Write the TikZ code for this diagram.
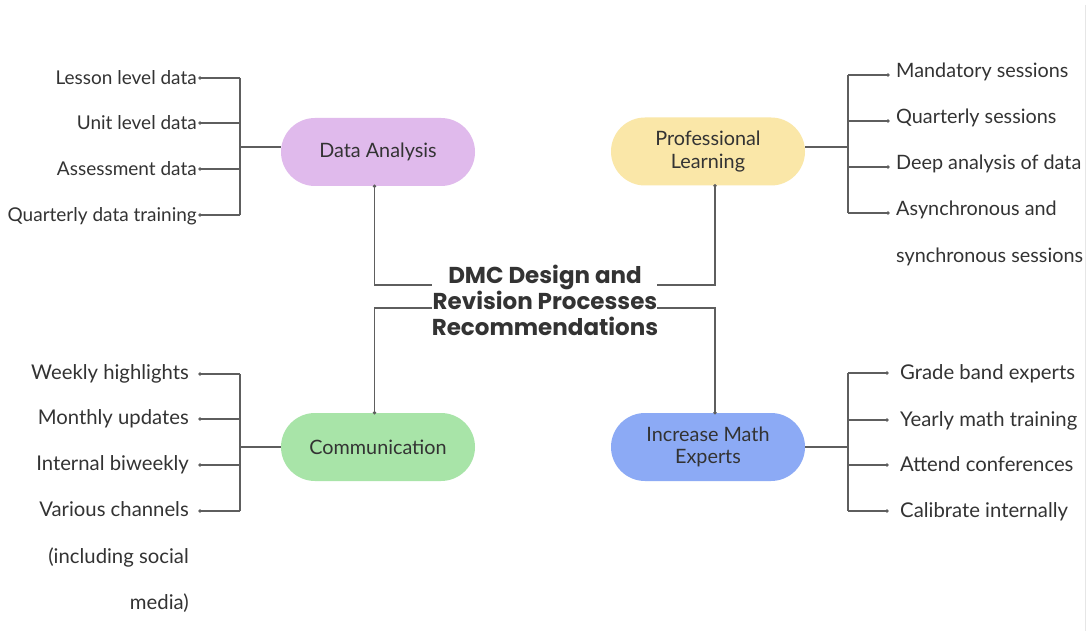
\documentclass[tikz,border=0pt]{standalone}
\usepackage{fontspec}
\setmainfont{Lato}
\newfontfamily\headfont{Poppins}
\definecolor{dapurple}{HTML}{E0BAEC}
\definecolor{plyellow}{HTML}{FAE7A8}
\definecolor{cmgreen}{HTML}{A8E4A8}
\definecolor{imblue}{HTML}{8CAAF5}
\definecolor{inkgray}{HTML}{333333}
\definecolor{linegray}{HTML}{5E5E5E}
\definecolor{edgegray}{HTML}{E6E6E6}
\tikzset{
  pill/.style={rounded corners=34pt, minimum width=194pt, minimum height=68pt,
    align=center, text=inkgray, inner sep=0pt, font=\fontsize{19.8}{22.5}\selectfont},
  item/.style={inner sep=0pt, text=inkgray, font=\fontsize{20.3}{22}\selectfont},
  smallitem/.style={item, font=\fontsize{19}{22}\selectfont},
  miditem/.style={item, font=\fontsize{19.8}{22}\selectfont},
  link/.style={draw=linegray, line width=1.2pt},
  knot/.style={circle, fill=linegray, inner sep=0pt, minimum size=3.8pt},
  headline/.style={inner sep=0pt, text=inkgray, align=center,
    font=\headfont\bfseries\fontsize{23}{26}\selectfont}
}
\begin{document}
\begin{tikzpicture}[x=1pt,y=-1pt]
\useasboundingbox (0,0) rectangle (1087,631);
\fill[white] (0,0) rectangle (1087,631);
\draw[edgegray, line width=1pt] (1085.5,5) -- (1085.5,631);

% central heading
\node[headline] (title) at (545,300) {DMC Design and\\Revision Processes\\Recommendations};
\coordinate (tNW) at (432,285);
\coordinate (tNE) at (657,285);
\coordinate (tSW) at (432,308);
\coordinate (tSE) at (657,308);

% the four topics
\node[pill, fill=dapurple] (da) at (378,152) {Data Analysis};
\node[pill, fill=plyellow] (pl) at (708,151.5) {Professional\\Learning};
\node[pill, fill=cmgreen] (cm) at (378,447) {Communication};
\node[pill, fill=imblue] (im) at (708,447) {Increase Math\\Experts};

% heading to topics
\coordinate (daS) at ([xshift=-3.5pt]da.south);
\coordinate (plS) at ([xshift=7pt]pl.south);
\coordinate (cmN) at ([xshift=-3.5pt]cm.north);
\coordinate (imN) at ([xshift=7pt]im.north);
\draw[link] (daS) |- (tNW);
\draw[link] (plS) |- (tNE);
\draw[link] (cmN) |- (tSW);
\draw[link] (imN) |- (tSE);
\foreach \c in {daS,plS,cmN,imN} \node[knot] at (\c) {};

% Data Analysis branches
\coordinate (daJ) at (240,147);
\draw[link] (da.west |- daJ) -- (daJ);
\draw[link] (240,78) -- (240,215);
\foreach \y/\t [count=\i] in {78/Lesson level data,123/Unit level data,169/Assessment data,215/Quarterly data training}{
  \coordinate (daB\i) at (240,\y);
  \coordinate (daD\i) at (200,\y);
  \node[smallitem, anchor=base east] (daT\i) at (197,\y+7) {\t};
  \draw[link] (daB\i) -- (daD\i);
  \node[knot] at (daD\i) {};
}

% Professional Learning branches
\coordinate (plJ) at (848,147);
\draw[link] (pl.east |- plJ) -- (plJ);
\draw[link] (848,75) -- (848,213);
\foreach \y/\t [count=\i] in {75/Mandatory sessions,121/Quarterly sessions,167/Deep analysis of data,213/Asynchronous and}{
  \coordinate (plB\i) at (848,\y);
  \coordinate (plD\i) at (888,\y);
  \node[miditem, anchor=base west] (plT\i) at (896,\y+3) {\t};
  \draw[link] (plB\i) -- (plD\i);
  \node[knot] at (plD\i) {};
}
\node[miditem, anchor=base west] (plT5) at (896,262) {synchronous sessions};

% Communication branches
\coordinate (cmJ) at (240,447);
\draw[link] (cm.west |- cmJ) -- (cmJ);
\draw[link] (240,374) -- (240,511);
\foreach \y/\t [count=\i] in {374/Weekly highlights,419/Monthly updates,465/Internal biweekly,511/Various channels}{
  \coordinate (cmB\i) at (240,\y);
  \coordinate (cmD\i) at (200,\y);
  \node[item, anchor=base east] (cmT\i) at (189,\y+5) {\t};
  \draw[link] (cmB\i) -- (cmD\i);
  \node[knot] at (cmD\i) {};
}
\node[item, anchor=base east] (cmT5) at (189,563) {(including social};
\node[item, anchor=base east] (cmT6) at (189,609) {media)};

% Increase Math Experts branches
\coordinate (imJ) at (848,447);
\draw[link] (im.east |- imJ) -- (imJ);
\draw[link] (848,373) -- (848,511);
\foreach \y/\t [count=\i] in {373/Grade band experts,420/Yearly math training,465/Attend conferences,511/Calibrate internally}{
  \coordinate (imB\i) at (848,\y);
  \coordinate (imD\i) at (887,\y);
  \node[item, anchor=base west] (imT\i) at (900,\y+6) {\t};
  \draw[link] (imB\i) -- (imD\i);
  \node[knot] at (imD\i) {};
}
\end{tikzpicture}
\end{document}
